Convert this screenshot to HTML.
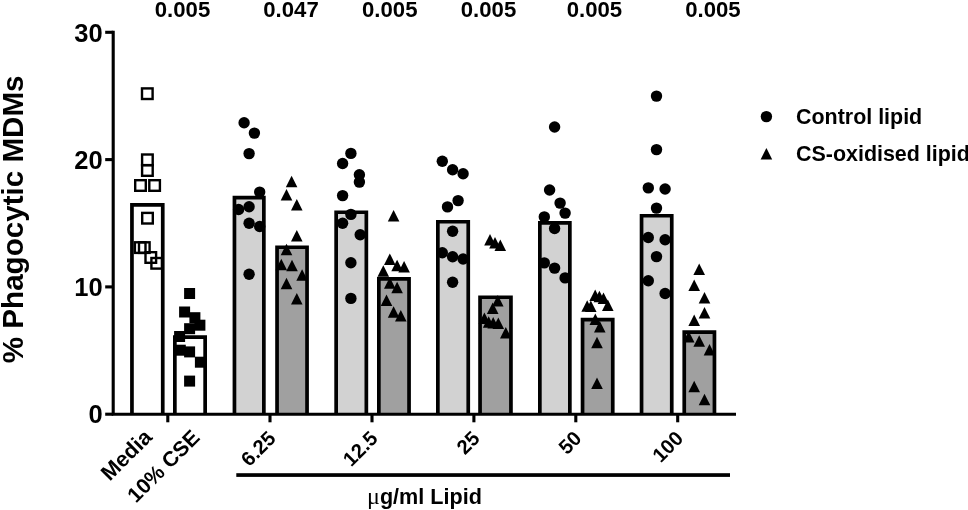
<!DOCTYPE html>
<html><head><meta charset="utf-8"><title>Phagocytic MDMs chart</title>
<style>html,body{margin:0;padding:0;background:#fff}body{width:968px;height:510px;overflow:hidden}svg{display:block}text{font-family:"Liberation Sans",Arial,Helvetica,sans-serif;font-weight:bold;fill:#000}.mu{font-family:"Liberation Serif","DejaVu Serif",serif;font-weight:normal}</style>
</head><body>
<svg width="968" height="510" viewBox="0 0 968 510">
<rect width="968" height="510" fill="#fff"/>
<g stroke="#000" stroke-width="3.7">
<path d="M131.95 414.2V204.95H162.75V414.2" fill="#fff"/>
<path d="M174.85 414.2V337.05H205.15V414.2" fill="#fff"/>
<path d="M234.45 414.2V197.55H263.85V414.2" fill="#d2d2d2"/>
<path d="M277.05 414.2V247.25H307.05V414.2" fill="#a0a0a0"/>
<path d="M336.15 414.2V212.25H366.35V414.2" fill="#d2d2d2"/>
<path d="M378.85 414.2V278.85H409.05V414.2" fill="#a0a0a0"/>
<path d="M437.85 414.2V221.75H468.25V414.2" fill="#d2d2d2"/>
<path d="M480.05 414.2V297.25H510.95V414.2" fill="#a0a0a0"/>
<path d="M539.85 414.2V222.85H569.85V414.2" fill="#d2d2d2"/>
<path d="M582.55 414.2V319.55H612.75V414.2" fill="#a0a0a0"/>
<path d="M641.55 414.2V215.75H671.75V414.2" fill="#d2d2d2"/>
<path d="M684.25 414.2V332.05H714.45V414.2" fill="#a0a0a0"/>
</g>
<g stroke="#000" stroke-width="3.1" fill="none">
<path d="M113.2 30.85 V414.2 H736"/>
<path d="M105.2 414.2 H113.2"/>
<path d="M105.2 286.9 H113.2"/>
<path d="M105.2 159.6 H113.2"/>
<path d="M105.2 32.3 H113.2"/>
<path d="M167.8 414.2 V422.3"/>
<path d="M270 414.2 V422.3"/>
<path d="M372 414.2 V422.3"/>
<path d="M473.9 414.2 V422.3"/>
<path d="M575.8 414.2 V422.3"/>
<path d="M677.7 414.2 V422.3"/>
</g>
<rect x="236.3" y="473.2" width="493.7" height="3.7" fill="#000"/>
<g stroke="#000" stroke-width="2.4" fill="none">
<rect x="142" y="88.4" width="10.6" height="10.6"/>
<rect x="142.1" y="154.5" width="10.6" height="10.6"/>
<rect x="142.1" y="165.2" width="10.6" height="10.6"/>
<rect x="135.2" y="180.2" width="10.6" height="10.6"/>
<rect x="149.3" y="180.2" width="10.6" height="10.6"/>
<rect x="142.2" y="212.9" width="10.6" height="10.6"/>
<rect x="134.9" y="242.3" width="10.6" height="10.6"/>
<rect x="139" y="242.3" width="10.6" height="10.6"/>
<rect x="145.5" y="252.2" width="10.6" height="10.6"/>
<rect x="151.4" y="258" width="10.6" height="10.6"/>
</g>
<g fill="#000">
<rect x="184.1" y="288" width="11" height="11"/>
<rect x="179.1" y="306.5" width="11" height="11"/>
<rect x="189.4" y="312.2" width="11" height="11"/>
<rect x="194.4" y="319.7" width="11" height="11"/>
<rect x="184.1" y="323.2" width="11" height="11"/>
<rect x="174.1" y="331" width="11" height="11"/>
<rect x="174.8" y="344.7" width="11" height="11"/>
<rect x="184.1" y="346.4" width="11" height="11"/>
<rect x="194.9" y="356.7" width="11" height="11"/>
<rect x="184.1" y="375.6" width="11" height="11"/>
<circle cx="244.1" cy="122.8" r="5.7"/>
<circle cx="254.4" cy="133.1" r="5.7"/>
<circle cx="249.1" cy="153.6" r="5.7"/>
<circle cx="259.7" cy="192.1" r="5.7"/>
<circle cx="238.6" cy="209.5" r="5.7"/>
<circle cx="249.1" cy="206.7" r="5.7"/>
<circle cx="249.1" cy="223.3" r="5.7"/>
<circle cx="259.7" cy="226.5" r="5.7"/>
<circle cx="249.1" cy="274.3" r="5.7"/>
<circle cx="350.9" cy="153.4" r="5.7"/>
<circle cx="342.6" cy="163.5" r="5.7"/>
<circle cx="359.4" cy="174.8" r="5.7"/>
<circle cx="359.4" cy="182.1" r="5.7"/>
<circle cx="342.6" cy="195.6" r="5.7"/>
<circle cx="350.9" cy="214.4" r="5.7"/>
<circle cx="342.6" cy="223.3" r="5.7"/>
<circle cx="360.2" cy="234.7" r="5.7"/>
<circle cx="350.9" cy="262.7" r="5.7"/>
<circle cx="350.9" cy="298.4" r="5.7"/>
<circle cx="442.3" cy="161.2" r="5.7"/>
<circle cx="452.6" cy="169.8" r="5.7"/>
<circle cx="463.1" cy="173.8" r="5.7"/>
<circle cx="458.1" cy="200.6" r="5.7"/>
<circle cx="447.5" cy="206.9" r="5.7"/>
<circle cx="452.6" cy="231.3" r="5.7"/>
<circle cx="442.3" cy="252.7" r="5.7"/>
<circle cx="452.6" cy="256.7" r="5.7"/>
<circle cx="463.1" cy="259" r="5.7"/>
<circle cx="452.6" cy="282.3" r="5.7"/>
<circle cx="554.6" cy="127" r="5.7"/>
<circle cx="549.6" cy="190" r="5.7"/>
<circle cx="560.1" cy="203.1" r="5.7"/>
<circle cx="565.1" cy="213.1" r="5.7"/>
<circle cx="544.3" cy="216.9" r="5.7"/>
<circle cx="554.6" cy="228.5" r="5.7"/>
<circle cx="544.3" cy="262.9" r="5.7"/>
<circle cx="554.6" cy="268.1" r="5.7"/>
<circle cx="565.1" cy="277.9" r="5.7"/>
<circle cx="656.5" cy="96.1" r="5.7"/>
<circle cx="656.5" cy="149.6" r="5.7"/>
<circle cx="648.3" cy="187.9" r="5.7"/>
<circle cx="665.1" cy="189" r="5.7"/>
<circle cx="656.5" cy="208.1" r="5.7"/>
<circle cx="648.3" cy="237.5" r="5.7"/>
<circle cx="665.1" cy="239.8" r="5.7"/>
<circle cx="656.5" cy="256.6" r="5.7"/>
<circle cx="648.3" cy="280.7" r="5.7"/>
<circle cx="665.1" cy="293.5" r="5.7"/>
<circle cx="766.4" cy="116.6" r="5.7"/>
<path d="M291.6 175.8l5.8 11.5h-11.6z"/>
<path d="M286.5 188.9l5.8 11.5h-11.6z"/>
<path d="M296.8 198.9l5.8 11.5h-11.6z"/>
<path d="M296.8 230l5.8 11.5h-11.6z"/>
<path d="M286.5 243.7l5.8 11.5h-11.6z"/>
<path d="M281.3 258.8l5.8 11.5h-11.6z"/>
<path d="M292 259.8l5.8 11.5h-11.6z"/>
<path d="M302.1 269.2l5.8 11.5h-11.6z"/>
<path d="M286.5 277.8l5.8 11.5h-11.6z"/>
<path d="M296.8 293l5.8 11.5h-11.6z"/>
<path d="M393.6 210.1l5.8 11.5h-11.6z"/>
<path d="M389.8 253.4l5.8 11.5h-11.6z"/>
<path d="M397.1 259.7l5.8 11.5h-11.6z"/>
<path d="M404.1 261l5.8 11.5h-11.6z"/>
<path d="M383.3 265.2l5.8 11.5h-11.6z"/>
<path d="M389.8 277.3l5.8 11.5h-11.6z"/>
<path d="M397.1 281.8l5.8 11.5h-11.6z"/>
<path d="M386.5 294.4l5.8 11.5h-11.6z"/>
<path d="M393.6 306.2l5.8 11.5h-11.6z"/>
<path d="M400.8 309.9l5.8 11.5h-11.6z"/>
<path d="M490 234.1l5.8 11.5h-11.6z"/>
<path d="M495 237.1l5.8 11.5h-11.6z"/>
<path d="M500.3 239.6l5.8 11.5h-11.6z"/>
<path d="M497.8 294.9l5.8 11.5h-11.6z"/>
<path d="M492.7 302.4l5.8 11.5h-11.6z"/>
<path d="M484.4 312.4l5.8 11.5h-11.6z"/>
<path d="M488.7 316.2l5.8 11.5h-11.6z"/>
<path d="M493.2 317l5.8 11.5h-11.6z"/>
<path d="M498.3 317.5l5.8 11.5h-11.6z"/>
<path d="M505.8 327l5.8 11.5h-11.6z"/>
<path d="M595.2 289.5l5.8 11.5h-11.6z"/>
<path d="M599.4 290.8l5.8 11.5h-11.6z"/>
<path d="M603.5 292.5l5.8 11.5h-11.6z"/>
<path d="M587.2 300.3l5.8 11.5h-11.6z"/>
<path d="M590.8 300.5l5.8 11.5h-11.6z"/>
<path d="M607.8 299.5l5.8 11.5h-11.6z"/>
<path d="M595.3 313.4l5.8 11.5h-11.6z"/>
<path d="M599.8 320.9l5.8 11.5h-11.6z"/>
<path d="M597 336.7l5.8 11.5h-11.6z"/>
<path d="M597 377.4l5.8 11.5h-11.6z"/>
<path d="M699.2 263.6l5.8 11.5h-11.6z"/>
<path d="M694.2 279.5l5.8 11.5h-11.6z"/>
<path d="M704.5 291.9l5.8 11.5h-11.6z"/>
<path d="M704.5 307.1l5.8 11.5h-11.6z"/>
<path d="M694.2 314.6l5.8 11.5h-11.6z"/>
<path d="M688.7 331l5.8 11.5h-11.6z"/>
<path d="M699.2 335.2l5.8 11.5h-11.6z"/>
<path d="M709.5 344l5.8 11.5h-11.6z"/>
<path d="M694.2 380.7l5.8 11.5h-11.6z"/>
<path d="M704.5 393.7l5.8 11.5h-11.6z"/>
<path d="M766.4 148l5.8 11.5h-11.6z"/>
</g>
<g font-size="22.2" text-anchor="middle">
<text x="182.5" y="17.4">0.005</text>
<text x="291" y="16.7">0.047</text>
<text x="389.8" y="17.4">0.005</text>
<text x="488.5" y="17.4">0.005</text>
<text x="594.4" y="17.3">0.005</text>
<text x="712.9" y="16.8">0.005</text>
</g>
<g font-size="25.5" text-anchor="end">
<text x="102.7" y="423.4">0</text>
<text x="102.7" y="296.1">10</text>
<text x="102.7" y="168.8">20</text>
<text x="102.7" y="41.5">30</text>
</g>
<text font-size="29.6" text-anchor="middle" transform="translate(23.2 219.3) rotate(-90)">% Phagocytic MDMs</text>
<g font-size="21.45">
<text x="796" y="123.8">Control lipid</text>
<text x="796" y="160.7">CS-oxidised lipid</text>
<text x="367" y="503.8" font-size="21.6"><tspan class="mu" font-size="24">μ</tspan>g/ml Lipid</text>
</g>
<g text-anchor="end">
<text font-size="21.7" transform="translate(153.2 438.4) rotate(-45)">Media</text>
<text font-size="21.2" transform="translate(201 438.7) rotate(-45)">10% CSE</text>
<text font-size="20.2" transform="translate(277 439.6) rotate(-45)">6.25</text>
<text font-size="20.2" transform="translate(379 439.6) rotate(-45)">12.5</text>
<text font-size="20.2" transform="translate(481 439.6) rotate(-45)">25</text>
<text font-size="20.2" transform="translate(582.8 439.6) rotate(-45)">50</text>
<text font-size="20.2" transform="translate(684.5 439.6) rotate(-45)">100</text>
</g>
</svg></body></html>
